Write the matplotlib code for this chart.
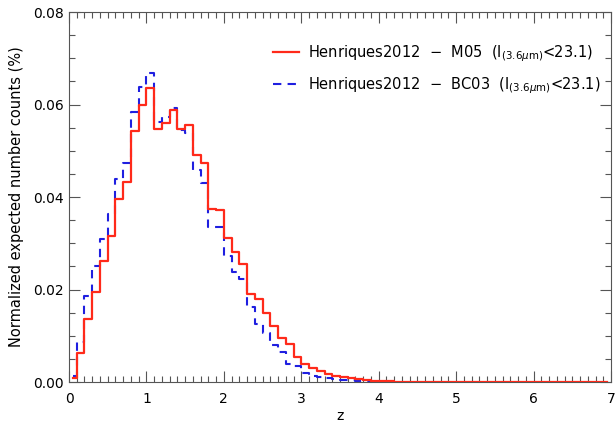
import matplotlib
matplotlib.use("Agg")
import matplotlib.pyplot as plt
from matplotlib.ticker import MultipleLocator

plt.rcParams['font.family'] = ['DejaVu Sans']
plt.rcParams['mathtext.fontset'] = 'dejavusans'

# bin centres (bin width 0.1)
z_centres = [round(0.05 + 0.1 * i, 2) for i in range(70)]

# Henriques2012 - M05
m05 = [0.0009, 0.0063, 0.0137, 0.0194, 0.0262, 0.0316, 0.0396, 0.0433, 0.0542, 0.0598,
       0.0636, 0.0546, 0.0559, 0.0588, 0.0547, 0.0556, 0.0490, 0.0474, 0.0375, 0.0372,
       0.0312, 0.0281, 0.0255, 0.0190, 0.0179, 0.0150, 0.0122, 0.0096, 0.0082, 0.0053,
       0.0038, 0.0031, 0.0023, 0.0018, 0.0013, 0.0010, 0.0008, 0.0006, 0.0004, 0.0003,
       0.0002, 0.0002, 0.0001, 0.0001, 0.0001, 0.0001, 0.0001, 0.0001, 0.0001, 0.0001,
       0.0001, 0.0001, 0.0001, 0.0001, 0.0001, 0.0001, 0.0001, 0.0001, 0.0001, 0.0001,
       0.0001, 0.0001, 0.0001, 0.0001, 0.0001, 0.0001, 0.0001, 0.0001, 0.0001, 0.0001]

# Henriques2012 - BC03
bc03 = [0.0013, 0.0087, 0.0185, 0.0250, 0.0310, 0.0363, 0.0440, 0.0474, 0.0584, 0.0638,
        0.0668, 0.0563, 0.0572, 0.0592, 0.0545, 0.0538, 0.0459, 0.0430, 0.0336, 0.0335,
        0.0273, 0.0238, 0.0222, 0.0162, 0.0125, 0.0105, 0.0079, 0.0064, 0.0040, 0.0034,
        0.0019, 0.0014, 0.0011, 0.0008, 0.0006, 0.0005, 0.0004, 0.0003, 0.0002, 0.0001]
bc03_centres = z_centres[:len(bc03)]

labels = [r'Henriques2012  $-$  M05  (I$_{(3.6\mu{\rm m})}$<23.1)',
          r'Henriques2012  $-$  BC03  (I$_{(3.6\mu{\rm m})}$<23.1)']

fig = plt.figure(figsize=(6.16, 4.26), dpi=100)
ax = fig.add_axes([69 / 616, 44 / 426, 542 / 616, 370 / 426])

ax.step(bc03_centres, bc03, where='mid', color='#1f1fe0', lw=1.5,
        linestyle=(0, (4, 3)), label=labels[1], zorder=2)
ax.step(z_centres, m05, where='mid', color='#ff2a1a', lw=1.6,
        label=labels[0], zorder=3)

ax.set_xlim(0, 7)
ax.set_ylim(0, 0.08)
ax.xaxis.set_major_locator(MultipleLocator(1))
ax.xaxis.set_minor_locator(MultipleLocator(0.1))
ax.yaxis.set_major_locator(MultipleLocator(0.02))
ax.yaxis.set_minor_locator(MultipleLocator(0.005))
ax.yaxis.set_major_formatter(plt.FormatStrFormatter('%.2f'))
ax.tick_params(which='both', direction='in', top=True, right=True,
               colors='#555555', labelcolor='black', labelsize=10, width=0.8)
ax.tick_params(which='major', length=8)
ax.tick_params(which='minor', length=4)
ax.tick_params(axis='x', pad=7)
for s in ax.spines.values():
    s.set_color('#555555')
    s.set_linewidth(0.8)

ax.set_xlabel('z', fontsize=10, labelpad=2)
ax.set_ylabel('Normalized expected number counts (%)', fontsize=10.5, labelpad=7)

h, l = ax.get_legend_handles_labels()
ax.legend(h[::-1], l[::-1], loc='upper right', bbox_to_anchor=(1.005, 0.95),
          frameon=False, fontsize=10.5, handlelength=1.8, handletextpad=0.6,
          labelspacing=0.75)

fig.savefig('out.png', dpi=100)
